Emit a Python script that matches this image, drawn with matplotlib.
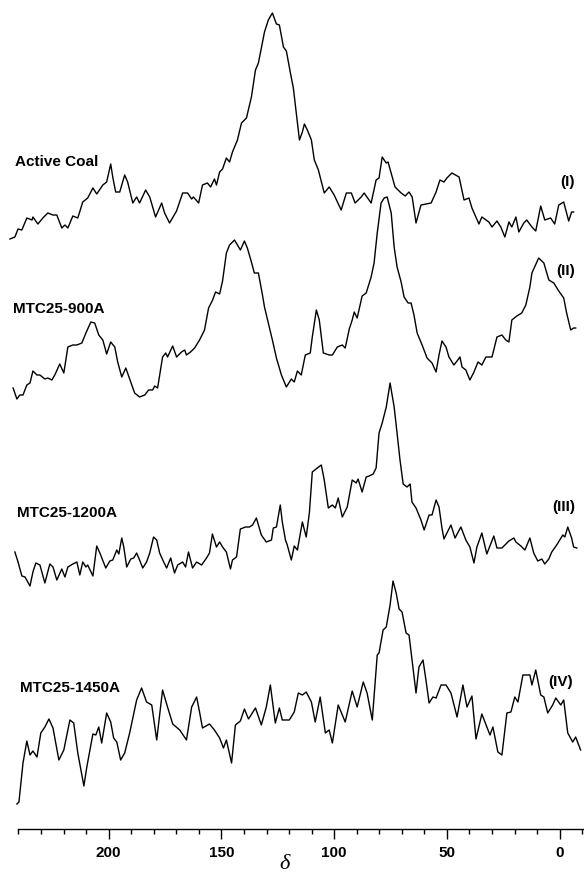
import numpy as np
import matplotlib
matplotlib.use("Agg")
from matplotlib import pyplot as plt
from matplotlib.ticker import MultipleLocator, FixedLocator

plt.rcParams["font.family"] = ["Liberation Sans", "DejaVu Sans"]

# 13C NMR traces, chemical shift (ppm) and stacked intensity (arbitrary units)
delta_coal = [243.8, 241.6, 240.2, 238.5, 236.3, 234.0, 233.6, 231.4, 229.2, 227.0, 224.7, 223.0,
              220.8, 219.4, 218.1, 215.9, 213.7, 211.5, 209.3, 207.0, 205.3, 202.6, 200.9, 199.1,
              198.2, 196.9, 195.1, 192.9, 191.6, 189.3, 187.6, 186.3, 183.6, 181.8, 179.2, 176.5,
              175.2, 173.0, 169.9, 167.2, 165.0, 163.2, 162.4, 160.1, 158.4, 156.2, 154.8, 153.1,
              152.2, 150.8, 149.5, 147.8, 146.4, 145.1, 142.9, 141.1, 138.9, 136.7, 134.9, 133.6,
              130.9, 129.2, 127.4, 125.6, 124.3, 122.5, 121.2, 119.4, 118.1, 116.8, 115.4, 114.1,
              113.2, 111.9, 110.1, 108.8, 107.0, 104.4, 102.2, 100.0, 96.9, 94.6, 92.4, 90.7,
              88.0, 86.7, 83.6, 81.4, 80.1, 78.7, 76.9, 76.1, 73.0, 70.3, 68.5, 66.8,
              65.4, 63.7, 61.5, 59.3, 57.0, 54.8, 53.1, 51.3, 50.0, 47.8, 44.6, 42.4,
              40.2, 38.9, 35.8, 34.5, 31.4, 30.0, 27.8, 26.1, 24.3, 22.5, 21.2, 19.4,
              18.1, 15.9, 14.6, 12.3, 10.6, 8.4, 6.6, 4.0, 2.2, 0.4, -1.8, -4.0,
              -5.3, -6.2]
int_coal = [590, 592, 600, 599, 611, 609, 612, 605, 611, 616, 614, 614,
            601, 604, 601, 613, 611, 627, 631, 641, 635, 644, 647, 665,
            652, 637, 637, 654, 647, 626, 632, 626, 639, 632, 612, 626,
            616, 606, 618, 636, 636, 630, 632, 626, 644, 646, 642, 650,
            644, 657, 660, 671, 667, 677, 689, 706, 711, 732, 759, 766,
            797, 809, 816, 805, 804, 782, 778, 756, 741, 716, 689, 697,
            705, 699, 689, 669, 659, 636, 642, 634, 619, 636, 636, 626,
            632, 636, 626, 649, 651, 672, 666, 667, 642, 636, 633, 637,
            632, 606, 624, 625, 626, 637, 649, 647, 651, 656, 652, 629,
            631, 621, 605, 612, 607, 602, 608, 602, 592, 607, 602, 612,
            597, 606, 609, 602, 598, 623, 609, 611, 605, 624, 627, 608,
            617, 617]

delta_900 = [242.4, 240.7, 239.4, 238.0, 236.3, 234.9, 233.6, 231.8, 230.5, 228.3, 227.0, 225.2,
             223.9, 221.7, 219.9, 218.1, 215.9, 214.1, 211.9, 210.1, 207.9, 206.2, 204.4, 202.6,
             200.9, 199.1, 197.3, 196.0, 194.2, 192.4, 190.7, 188.5, 186.3, 184.0, 182.3, 180.5,
             179.6, 178.3, 176.1, 174.7, 173.9, 171.6, 169.9, 167.7, 166.3, 165.5, 163.7, 161.9,
             159.7, 157.5, 155.7, 153.9, 152.6, 150.8, 149.5, 147.8, 146.4, 144.2, 142.9, 141.6,
             139.8, 138.5, 136.7, 135.4, 133.6, 131.8, 130.9, 129.2, 127.4, 125.6, 123.4, 121.2,
             119.0, 117.7, 116.3, 114.6, 112.8, 110.6, 109.7, 107.9, 106.6, 104.8, 102.2, 100.8,
             98.6, 96.4, 95.1, 93.3, 92.0, 91.1, 89.8, 87.6, 85.8, 83.6, 82.3, 80.9,
             79.2, 77.8, 76.5, 74.7, 73.4, 72.1, 70.3, 69.0, 67.2, 65.9, 64.6, 63.2,
             61.0, 58.8, 56.6, 54.8, 53.5, 52.2, 50.4, 49.1, 46.9, 45.5, 44.2, 43.3,
             41.6, 39.8, 38.0, 36.2, 34.5, 32.7, 30.0, 27.8, 25.6, 23.9, 22.5, 21.2,
             19.0, 16.8, 15.0, 13.2, 12.3, 9.3, 7.0, 4.8, 2.6, 0.4, -1.8, -3.1,
             -4.9, -6.2, -7.1]
int_900 = [441, 430, 434, 434, 444, 446, 458, 454, 454, 450, 451, 449,
           454, 465, 456, 482, 484, 484, 486, 496, 507, 506, 494, 489,
           475, 487, 482, 467, 452, 461, 450, 436, 432, 434, 439, 439,
           443, 441, 472, 476, 472, 483, 472, 477, 479, 474, 477, 481,
           489, 499, 521, 529, 537, 535, 548, 576, 584, 589, 584, 579,
           588, 581, 567, 556, 556, 534, 522, 506, 489, 471, 454, 442,
           450, 447, 458, 454, 474, 476, 492, 519, 509, 476, 474, 474,
           482, 484, 481, 500, 509, 517, 511, 533, 536, 552, 566, 596,
           626, 631, 632, 616, 582, 562, 547, 532, 526, 526, 514, 496,
           484, 471, 466, 457, 474, 488, 482, 472, 464, 468, 472, 462,
           459, 449, 457, 467, 464, 472, 472, 492, 494, 489, 487, 509,
           513, 516, 524, 542, 556, 571, 566, 549, 546, 538, 531, 516,
           499, 501, 501]

delta_1200 = [241.6, 240.2, 238.5, 237.1, 234.9, 233.6, 232.3, 230.5, 228.3, 226.1, 224.7, 223.0,
              220.8, 219.4, 218.1, 215.9, 214.1, 212.8, 211.5, 210.1, 209.3, 207.0, 205.3, 203.9,
              201.3, 199.5, 198.2, 196.4, 195.5, 194.2, 193.3, 192.0, 190.2, 188.9, 187.6, 186.3,
              184.9, 183.2, 181.8, 180.1, 178.7, 177.4, 175.6, 174.3, 172.5, 170.8, 169.4, 167.2,
              165.9, 164.6, 162.8, 161.0, 158.8, 156.6, 155.3, 154.0, 152.2, 150.8, 149.5, 147.8,
              146.0, 145.1, 143.3, 141.6, 139.3, 137.6, 136.2, 134.5, 132.3, 130.1, 127.8, 127.0,
              125.6, 123.9, 123.0, 121.6, 120.8, 119.0, 117.7, 116.3, 114.1, 112.4, 111.0, 109.7,
              107.5, 105.7, 104.4, 102.6, 100.8, 99.5, 98.2, 96.4, 94.2, 92.0, 90.2, 89.4,
              87.6, 85.8, 84.5, 82.7, 81.4, 80.1, 78.7, 76.9, 75.2, 73.4, 72.5, 70.8,
              69.4, 67.7, 66.3, 65.5, 63.7, 61.5, 60.1, 57.9, 56.6, 54.8, 53.5, 52.2,
              51.3, 50.0, 48.2, 46.4, 43.8, 41.6, 39.8, 38.0, 36.7, 34.5, 32.3, 29.2,
              27.8, 25.6, 22.5, 20.3, 19.4, 17.2, 15.4, 13.2, 11.5, 9.7, 7.9, 6.6,
              4.8, 3.5, 1.3, -1.4, -2.3, -3.6, -5.3, -6.2, -7.6]
int_1200 = [277, 267, 253, 252, 243, 257, 266, 264, 246, 265, 262, 249,
            260, 252, 262, 265, 267, 254, 267, 262, 264, 253, 283, 276,
            261, 268, 269, 279, 275, 291, 282, 262, 270, 271, 276, 269,
            261, 267, 276, 292, 289, 276, 267, 261, 271, 256, 264, 267,
            262, 277, 261, 267, 264, 271, 276, 295, 282, 287, 282, 277,
            260, 269, 272, 300, 302, 302, 304, 311, 294, 287, 289, 301,
            302, 324, 307, 289, 284, 269, 283, 279, 307, 292, 316, 357,
            361, 364, 349, 321, 324, 321, 331, 312, 322, 349, 346, 350,
            337, 352, 353, 355, 361, 396, 406, 422, 446, 422, 404, 369,
            345, 342, 345, 327, 321, 309, 299, 314, 314, 329, 322, 301,
            290, 296, 304, 291, 302, 289, 282, 266, 282, 296, 275, 293,
            281, 281, 288, 291, 287, 283, 279, 291, 276, 268, 270, 265,
            270, 277, 284, 294, 292, 302, 291, 282, 281]

delta_1450 = [240.7, 239.8, 238.0, 236.3, 234.9, 233.6, 231.8, 230.1, 228.3, 226.5, 224.7, 222.1,
              219.9, 217.2, 215.5, 213.7, 211.0, 209.7, 207.0, 205.7, 204.4, 203.1, 200.9, 199.1,
              197.8, 196.4, 194.7, 192.9, 190.7, 187.6, 185.4, 183.2, 180.9, 178.7, 176.1, 173.9,
              171.6, 168.5, 165.5, 163.2, 161.0, 159.7, 158.4, 155.3, 153.1, 150.8, 149.1, 147.8,
              145.5, 143.8, 141.6, 139.8, 138.0, 134.9, 132.3, 130.1, 128.3, 126.1, 124.3, 123.0,
              119.9, 117.7, 115.9, 114.1, 112.4, 110.1, 108.4, 106.2, 103.9, 102.2, 100.8, 98.2,
              95.1, 92.0, 89.8, 87.1, 85.4, 83.1, 80.9, 80.1, 78.3, 76.9, 75.2, 73.9,
              72.5, 71.2, 69.9, 68.1, 66.8, 63.7, 62.4, 60.6, 59.3, 57.9, 56.2, 54.8,
              52.6, 50.4, 48.2, 45.5, 42.9, 41.1, 38.9, 37.1, 34.5, 30.9, 29.6, 27.4,
              25.6, 23.4, 21.6, 19.9, 18.5, 16.3, 14.6, 13.2, 12.3, 10.6, 8.4, 7.0,
              5.3, 3.1, 1.7, -0.5, -1.8, -3.6, -5.8, -7.1, -9.3]
int_1450 = [25, 27, 66, 88, 74, 78, 72, 96, 102, 110, 101, 69,
            79, 109, 106, 76, 43, 62, 95, 94, 102, 86, 116, 107,
            91, 87, 69, 76, 96, 129, 141, 127, 124, 89, 139, 122,
            105, 99, 89, 122, 132, 117, 101, 105, 99, 91, 81, 89,
            66, 104, 108, 120, 110, 121, 104, 122, 144, 106, 121, 109,
            109, 117, 136, 134, 137, 127, 107, 132, 96, 99, 86, 124,
            107, 138, 122, 147, 136, 109, 174, 176, 199, 202, 224, 248,
            236, 220, 217, 196, 194, 136, 162, 169, 149, 126, 132, 131,
            144, 144, 136, 112, 144, 122, 133, 90, 115, 94, 102, 77,
            74, 116, 117, 132, 127, 154, 154, 154, 144, 159, 134, 132,
            116, 124, 131, 124, 129, 96, 87, 92, 79]

fig = plt.figure(figsize=(5.84, 8.72), dpi=100)
ax = fig.add_axes([0, 43 / 872, 1, 829 / 872])

for d, y in [(delta_coal, int_coal), (delta_900, int_900),
             (delta_1200, int_1200), (delta_1450, int_1450)]:
    ax.plot(d, y, color="black", lw=1.0, solid_joinstyle="round")

ax.set_xlim(248.2, -10.8)
ax.set_ylim(0, 829)

# sample names on the left, roman numerals on the right
name_kw = dict(fontsize=11, fontweight="bold", ha="left", va="center")
ax.text(241.6, 667, "Active Coal", **name_kw)
ax.text(242.4, 520, "MTC25-900A", **name_kw)
ax.text(240.7, 316, "MTC25-1200A", **name_kw)
ax.text(239.4, 141, "MTC25-1450A", **name_kw)

num_kw = dict(fontsize=11, fontweight="bold", ha="right", va="center")
ax.text(-6.9, 647, "(I)", **num_kw)
ax.text(-6.7, 558, "(II)", **num_kw)
ax.text(-7.1, 322, "(III)", **num_kw)
ax.text(-5.8, 147, "(IV)", **num_kw)

for side in ["top", "right", "left"]:
    ax.spines[side].set_visible(False)
ax.spines["bottom"].set_bounds(240, -10.8)
ax.spines["bottom"].set_linewidth(1.0)
ax.set_yticks([])
ax.xaxis.set_major_locator(FixedLocator([200, 150, 100, 50, 0]))
ax.xaxis.set_minor_locator(MultipleLocator(10))
ax.tick_params(axis="x", which="major", direction="out", length=7.2, width=1.0, pad=5,
               labelsize=11)
ax.tick_params(axis="x", which="minor", direction="out", length=3.8, width=1.0)
for lab in ax.get_xticklabels():
    lab.set_fontweight("bold")

fig.text(285 / 584, 1 - 864 / 872, "δ", fontsize=16, style="italic",
         family=["Liberation Serif", "DejaVu Serif"], ha="center", va="center")

fig.savefig("out.png", dpi=100)
